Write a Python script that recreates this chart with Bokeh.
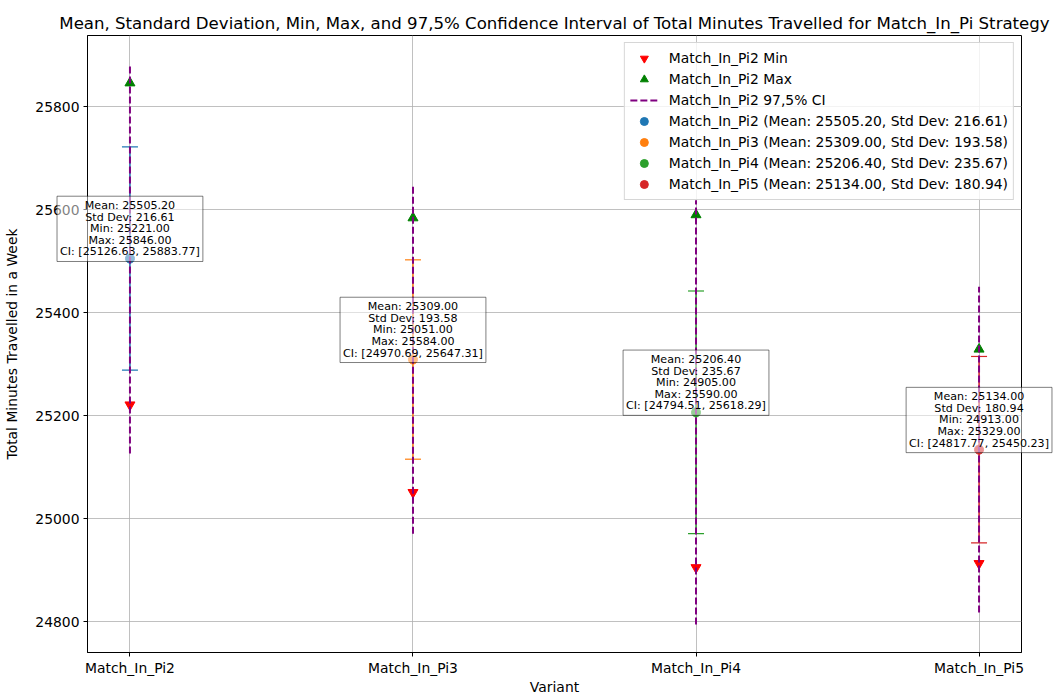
from bokeh.plotting import figure
from bokeh.models import Range1d, FixedTicker, Legend, LegendItem, ColumnDataSource
from bokeh.core.properties import value
from bokeh.embed import file_html
from bokeh.resources import INLINE

variants = ["Match_In_Pi2", "Match_In_Pi3", "Match_In_Pi4", "Match_In_Pi5"]
means = [25505.20, 25309.00, 25206.40, 25134.00]
stds = [216.61, 193.58, 235.67, 180.94]
mins = [25221.00, 25051.00, 24905.00, 24913.00]
maxs = [25846.00, 25584.00, 25590.00, 25329.00]
ci_low = [25126.63, 24970.69, 24794.51, 24817.77]
ci_high = [25883.77, 25647.31, 25618.29, 25450.23]
colors = ["#1f77b4", "#ff7f0e", "#2ca02c", "#d62728"]
y_ticks = [24800, 25000, 25200, 25400, 25600, 25800]

FONT = "DejaVu Sans"
xs = list(range(len(variants)))
lower = [m - s for m, s in zip(means, stds)]
upper = [m + s for m, s in zip(means, stds)]

all_vals = mins + maxs + ci_low + ci_high + lower + upper
lo, hi = min(all_vals), max(all_vals)
pad = 0.05 * (hi - lo)
xpad = 0.05 * (len(variants) - 1)

p = figure(width=1057, height=697, output_backend="svg", toolbar_location=None,
           x_range=Range1d(-xpad, len(variants) - 1 + xpad),
           y_range=Range1d(lo - pad, hi + pad),
           min_border_left=87, min_border_right=36, min_border_top=35, min_border_bottom=44,
           title="Mean, Standard Deviation, Min, Max, and 97,5% Confidence Interval of Total Minutes Travelled for Match_In_Pi Strategy")

p.title.text_font = FONT
p.title.text_font_size = "16.6px"
p.title.text_font_style = "normal"
p.title.text_color = "black"
p.title.align = "center"
p.title.standoff = 5

p.background_fill_color = "white"
p.border_fill_color = "white"
p.outline_line_color = "black"
p.outline_line_width = 1
p.outline_line_alpha = 1

p.xaxis.ticker = FixedTicker(ticks=xs)
p.xaxis.major_label_overrides = {i: v for i, v in zip(xs, variants)}
p.yaxis.ticker = FixedTicker(ticks=y_ticks)
p.xaxis.axis_label = "Variant"
p.yaxis.axis_label = "Total Minutes Travelled in a Week"
for ax in p.axis:
    ax.axis_line_color = "black"
    ax.major_tick_line_color = "black"
    ax.minor_tick_line_color = None
    ax.major_tick_in = 0
    ax.major_tick_out = 4
    ax.major_label_standoff = 4
    ax.major_label_text_font = FONT
    ax.major_label_text_font_size = "13.9px"
    ax.major_label_text_color = "black"
    ax.axis_label_text_font = FONT
    ax.axis_label_text_font_size = "13.9px"
    ax.axis_label_text_font_style = "normal"
    ax.axis_label_text_color = "black"
p.xaxis.major_label_standoff = 3
p.xaxis.axis_label_standoff = 0
p.yaxis.axis_label_standoff = 12

for g in (p.xgrid, p.ygrid):
    g.grid_line_color = "#b0b0b0"
    g.grid_line_width = 0.8

texts = [(f"Mean: {means[i]:.2f}\nStd Dev: {stds[i]:.2f}\nMin: {mins[i]:.2f}\n"
          f"Max: {maxs[i]:.2f}\nCI: [{ci_low[i]:.2f}, {ci_high[i]:.2f}]") for i in xs]

src = ColumnDataSource(dict(x=xs, mean=means, lower=lower, upper=upper, mn=mins, mx=maxs,
                            cl=ci_low, ch=ci_high, color=colors, txt=texts))

# error bars
p.segment(x0="x", y0="lower", x1="x", y1="upper", source=src, line_color="color", line_width=1.5)
p.scatter(x="x", y="upper", source=src, marker="dash", size=16, line_color="color", line_width=1.2)
p.scatter(x="x", y="lower", source=src, marker="dash", size=16, line_color="color", line_width=1.2)
r_mean = p.scatter(x="x", y="mean", source=src, marker="circle", size=9, fill_color="color", line_color="color")

r_min = p.scatter(x="x", y="mn", source=src, marker="inverted_triangle", size=10,
                  fill_color="red", line_color="red")
r_max = p.scatter(x="x", y="mx", source=src, marker="triangle", size=10,
                  fill_color="green", line_color="green")
r_ci = p.segment(x0="x", y0="cl", x1="x", y1="ch", source=src, line_color="purple",
                 line_width=2, line_dash="7 3")

p.text(x="x", y="mean", text="txt", source=src, level="overlay",
       text_align="center", text_baseline="bottom", y_offset=3,
       text_font=value(FONT), text_font_size="11.1px", text_color="black",
       text_line_height=0.89,
       background_fill_color="white", background_fill_alpha=0.5,
       border_line_color="black", border_line_alpha=0.5, border_line_width=1,
       padding=3)

items = [
    LegendItem(label=f"{variants[0]} Min", renderers=[r_min], index=0),
    LegendItem(label=f"{variants[0]} Max", renderers=[r_max], index=0),
    LegendItem(label=f"{variants[0]} 97,5% CI", renderers=[r_ci], index=0),
]
for i in xs:
    items.append(LegendItem(label=f"{variants[i]} (Mean: {means[i]:.2f}, Std Dev: {stds[i]:.2f})",
                            renderers=[r_mean], index=i))

legend = Legend(items=items, location="top_right", margin=7, padding=5,
                glyph_width=28, glyph_height=20, label_height=20, spacing=1,
                label_standoff=11, label_text_font=FONT, label_text_font_size="13.9px",
                label_text_color="black", background_fill_color="white",
                background_fill_alpha=0.8, border_line_color="#cccccc", border_line_alpha=0.8)
p.add_layout(legend)

open("out.html", "w").write(file_html(p, INLINE))
